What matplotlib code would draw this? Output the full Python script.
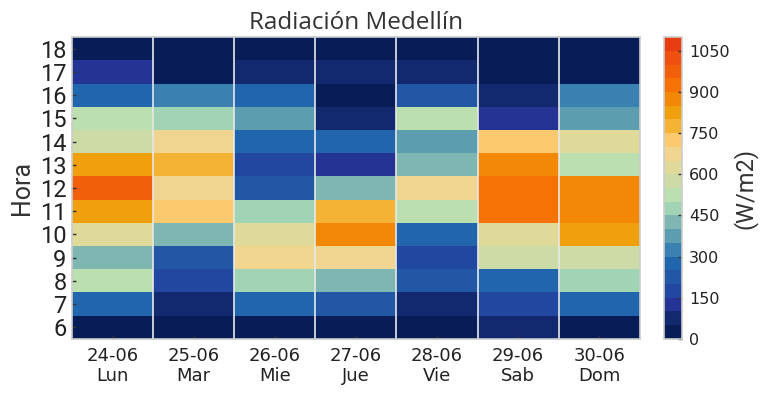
import numpy as np
import matplotlib
matplotlib.use("Agg")
import matplotlib.pyplot as plt
from matplotlib.colors import ListedColormap, BoundaryNorm

days = ["24-06\nLun", "25-06\nMar", "26-06\nMie", "27-06\nJue", "28-06\nVie", "29-06\nSab", "30-06\nDom"]
hours = [6, 7, 8, 9, 10, 11, 12, 13, 14, 15, 16, 17, 18]

# radiation values (W/m2), rows = hours 6..18, columns = days
lun = [25, 275, 525, 425, 625, 825, 975, 825, 575, 525, 275, 125, 25]
mar = [25, 75, 175, 225, 425, 725, 675, 775, 675, 475, 325, 25, 25]
mie = [25, 275, 475, 675, 625, 475, 225, 175, 275, 375, 275, 75, 25]
jue = [25, 225, 425, 675, 875, 775, 425, 125, 275, 75, 25, 75, 25]
vie = [25, 75, 225, 175, 275, 525, 675, 425, 375, 525, 225, 75, 25]
sab = [75, 175, 275, 575, 625, 925, 925, 875, 725, 125, 75, 25, 25]
dom = [25, 275, 475, 575, 825, 875, 875, 525, 625, 375, 325, 25, 25]

levels = np.arange(0, 1101, 50)
cbar_ticks = [0, 150, 300, 450, 600, 750, 900, 1050]
colors = ["#081d58", "#13296f", "#253494", "#2147a0", "#2257a5", "#2166ac",
          "#3a80b0", "#5c9db0", "#7eb7b2", "#a1d3b5", "#bcdfb0", "#cddca6",
          "#dfd99a", "#f0d590", "#fbca6f", "#f5b335", "#f0a00c", "#f38807",
          "#f67205", "#f25f0a", "#ef4f0f", "#e83d12"]

data = np.array([lun, mar, mie, jue, vie, sab, dom]).T
cmap = ListedColormap(colors)
norm = BoundaryNorm(levels, cmap.N)

fig = plt.figure(figsize=(7.67, 3.95), dpi=100)
ax = fig.add_axes([0.094, 0.142, 0.740, 0.764])
cax = fig.add_axes([0.866, 0.142, 0.023, 0.764])

x = np.arange(len(days) + 1) - 0.5
y = np.arange(len(hours) + 1) - 0.5
mesh = ax.pcolormesh(x, y, data, cmap=cmap, norm=norm)
for xb in x[1:-1]:
    ax.axvline(xb, color="#e8e8e8", lw=1.2)
ax.set_xlim(-0.5, len(days) - 0.5)
ax.set_ylim(-0.5, len(hours) - 0.5)
ax.set_xticks(range(len(days)))
ax.set_xticklabels(days, fontsize=13, family="DejaVu Sans", linespacing=1.15)
ax.set_yticks(range(len(hours)))
ax.set_yticklabels([str(h) for h in hours], fontsize=17, family="Roboto")
ax.tick_params(axis="both", direction="in", length=3, width=1, color="#333333")
ax.tick_params(axis="x", pad=6)
ax.tick_params(axis="y", pad=4)
for s in ax.spines.values():
    s.set_color("#cccccc")
    s.set_linewidth(1.2)
ax.set_ylabel("Hora", fontsize=18, family="Roboto", color="#333333", labelpad=4)
ax.set_title("Radiación Medellín", fontsize=17.5, family="Open Sans", color="#333333", pad=6)

cb = fig.colorbar(mesh, cax=cax, ticks=cbar_ticks)
cb.outline.set_edgecolor("#cccccc")
cb.outline.set_linewidth(1.2)
cax.minorticks_off()
cax.tick_params(labelsize=11.5, direction="in", length=3, width=1, color="#333333", pad=5)
for t in cax.get_yticklabels():
    t.set_family("DejaVu Sans")
    t.set_color("#222222")
cb.set_label("(W/m2)", fontsize=17, family="Roboto", color="#333333", labelpad=2)

for t in ax.get_xticklabels() + ax.get_yticklabels():
    t.set_color("#222222")

fig.savefig("out.png", dpi=100)
